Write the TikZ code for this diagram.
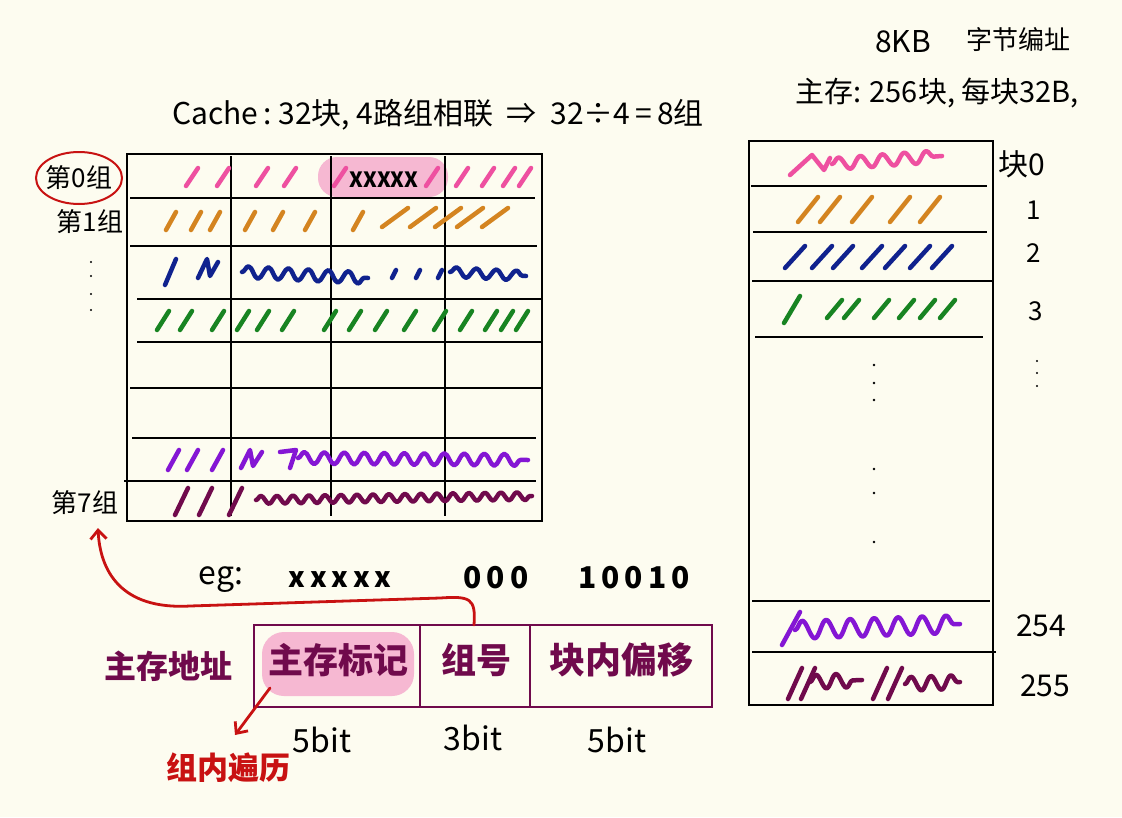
\documentclass[tikz,border=0pt]{standalone}
\usepackage{fontspec}
\setmainfont{Noto Sans CJK SC}
\usetikzlibrary{decorations.pathmorphing,arrows.meta}
\definecolor{bgc}{RGB}{253,252,240}
\definecolor{pinkc}{RGB}{238,80,160}
\definecolor{hlc}{RGB}{246,184,210}
\definecolor{orangec}{RGB}{212,132,32}
\definecolor{bluec}{RGB}{16,34,142}
\definecolor{greenc}{RGB}{24,132,34}
\definecolor{purplec}{RGB}{132,22,212}
\definecolor{maroonc}{RGB}{112,10,76}
\definecolor{redc}{RGB}{200,18,18}
\tikzset{
  grid/.style={line width=1.8pt, black},
  scrib/.style={line width=4.5pt, line cap=round, line join=round},
  wav/.style={scrib, decorate, decoration={snake, amplitude=6, segment length=20}},
  lbl/.style={inner sep=0pt, font=\fontsize{26}{30}\selectfont},
  big/.style={inner sep=0pt, font=\fontsize{35}{40}\selectfont\bfseries},
  redarrow/.style={redc, line width=2.8pt, line cap=round, -{Straight Barb[length=9pt,width=16pt,line width=2.8pt]}},
}
\begin{document}
\begin{tikzpicture}[x=1pt,y=-1pt]
\useasboundingbox (0,0) rectangle (1122,817);
\fill[bgc] (0,0) rectangle (1122,817);

% ---------- titles ----------
\node[lbl, font=\fontsize{30}{34}\selectfont] (kb) at (903,42) {8KB};
\node[lbl, font=\fontsize{26}{30}\selectfont] (byteaddr) at (1018,40) {字节编址};
\node[lbl, font=\fontsize{29}{34}\selectfont] (mm) at (937,93) {主存: 256块, 每块32B,};
\node[lbl, font=\fontsize{30}{34}\selectfont] (cachet) at (438,115) {Cache\,:\ 32块,\ 4路组相联\ \ ⇒\ \ 32÷4\,=\,8组};

% ---------- cache table ----------
\fill[hlc, rounded corners=19pt] (318,157) rectangle (448,197);
\draw[grid] (127,154) rectangle (542,521);
\foreach \cx in {231,331,445} \draw[grid] (\cx,156) -- (\cx,516);
\draw[grid] (130,198) -- (535,198);
\draw[grid] (130,246) -- (537,246);
\draw[grid] (137,299) -- (543,299);
\draw[grid] (137,342) -- (543,342);
\draw[grid] (130,388) -- (543,388);
\draw[grid] (132,438) -- (536,438);
\draw[grid] (124,481) -- (536,481);
\node[inner sep=0pt, font=\fontsize{21}{24}\selectfont\bfseries] (xx) at (384,180) {XXXXX};

% row 0 pink
\foreach \sx in {192,223,262,290,340,432,462,488,509,525}
  \draw[scrib,pinkc] (\sx-6,186) -- (\sx+6,168);
% row 1 orange
\foreach \sx in {171,196,215,250,278,310,358}
  \draw[scrib,orangec] (\sx-5,230) -- (\sx+5,212);
\foreach \sx in {395,423,448,470,495}
  \draw[scrib,orangec] (\sx-13,227) -- (\sx+13,208);
% row 2 blue
\draw[scrib,bluec] (165,285) -- (176,259);
\draw[scrib,bluec] (198,278) -- (207,259) -- (210,276) -- (218,262);
\draw[wav,bluec] (242,272) -- (368,278);
\foreach \sx in {394,418,440}
  \draw[scrib,bluec] (\sx-2,278) -- (\sx+2,270);
\draw[wav,bluec, decoration={amplitude=5}] (450,272) -- (526,276);
% row 3 green
\foreach \sx in {163,186,218,243,263,288,330,355,381,410,440,466,491,507,522}
  \draw[scrib,greenc] (\sx-6,330) -- (\sx+6,311);
% row 6 purple
\foreach \sx in {174,193,218}
  \draw[scrib,purplec] (\sx-6,470) -- (\sx+5,450);
\draw[scrib,purplec] (241,468) -- (250,450) -- (253,466) -- (262,452);
\draw[scrib,purplec] (280,452) -- (296,450) -- (290,468);
\draw[wav,purplec] (298,458) -- (528,460);
% row 7 maroon
\foreach \sx in {183,207,237}
  \draw[scrib,maroonc] (\sx-8,515) -- (\sx+5,488);
\draw[wav,maroonc, decoration={amplitude=4, segment length=16}] (256,500) -- (532,496);

% ---------- group labels ----------
\node[lbl] (g0) at (79,178) {第0组};
\draw[redc, line width=2pt] (g0) ellipse [x radius=43pt, y radius=26pt];
\node[lbl] (g1) at (90,222) {第1组};
\foreach \dy in {262,276,294,310} \fill (91,\dy) circle (1.2pt);
\node[lbl] (g7) at (85,503) {第7组};

% ---------- main memory table ----------
\draw[grid] (749,141) rectangle (993,705);
\draw[grid] (751,186) -- (987,186);
\draw[grid] (753,232) -- (987,232);
\draw[grid] (752,281) -- (993,281);
\draw[grid] (755,337) -- (983,337);
\draw[grid] (752,601) -- (990,601);
\draw[grid] (752,652) -- (996,652);
\foreach \dy in {365,383,400,469,493,542} \fill (874,\dy) circle (1.3pt);

% memory rows
\draw[scrib,pinkc] (790,175) -- (812,155) -- (824,170) -- (830,158);
\draw[wav,pinkc, decoration={amplitude=6, segment length=22}] (832,164) -- (942,156);
\foreach \sx in {808,830,862,900,930}
  \draw[scrib,orangec] (\sx-10,222) -- (\sx+10,197);
\foreach \sx in {795,822,843,872,895,920,942}
  \draw[scrib,bluec] (\sx-10,268) -- (\sx+10,246);
\draw[scrib,greenc] (784,323) -- (800,296);
\foreach \sx in {835,852,882,907,928,948}
  \draw[scrib,greenc] (\sx-8,318) -- (\sx+7,300);
\draw[scrib,purplec] (782,645) -- (800,612);
\draw[wav,purplec, decoration={amplitude=9, segment length=24}] (795,630) -- (960,624);
\foreach \sx in {795,808,880,895}
  \draw[scrib,maroonc] (\sx-7,699) -- (\sx+7,668);
\draw[wav,maroonc, decoration={amplitude=7, segment length=20}] (810,682) -- (862,680);
\draw[wav,maroonc, decoration={amplitude=7, segment length=20}] (905,684) -- (960,682);

% memory labels
\node[lbl, font=\fontsize{30}{34}\selectfont] (b0) at (1022,164) {块0};
\node[lbl] (b1) at (1034,210) {1};
\node[lbl] (b2) at (1034,253) {2};
\node[lbl] (b3) at (1036,311) {3};
\foreach \dy in {361,373,386} \fill (1037,\dy) circle (1.1pt);
\node[lbl, font=\fontsize{30}{34}\selectfont] (b254) at (1041,626) {254};
\node[lbl, font=\fontsize{30}{34}\selectfont] (b255) at (1045,686) {255};

% ---------- example ----------
\node[lbl, font=\fontsize{32}{36}\selectfont] (eg) at (221,580) {eg:};
\node[lbl, font=\fontsize{28}{32}\selectfont\bfseries] (ex) at (340,580) {x\,x\,x\,x\,x};
\node[lbl, font=\fontsize{30}{34}\selectfont\bfseries] (ez) at (496,578) {0\,0\,0};
\node[lbl, font=\fontsize{30}{34}\selectfont\bfseries] (eo) at (634,578) {1\,0\,0\,1\,0};

% ---------- address box ----------
\fill[hlc, rounded corners=22pt] (262,632) rectangle (414,696);
\draw[maroonc, line width=2.6pt] (254,625) rectangle (712,707);
\draw[maroonc, line width=2.6pt] (420,625) -- (420,707);
\draw[maroonc, line width=2.6pt] (530,625) -- (530,707);
\node[big, maroonc, font=\fontsize{32}{36}\selectfont\bfseries] (addr) at (168,666) {主存地址};
\node[big, maroonc] (tag) at (338,660) {主存标记};
\node[big, maroonc] (setno) at (476,660) {组号};
\node[big, maroonc, font=\fontsize{36}{40}\selectfont\bfseries] (off) at (621,660) {块内偏移};
\node[lbl, font=\fontsize{32}{36}\selectfont] (t5) at (322,740) {5bit};
\node[lbl, font=\fontsize{32}{36}\selectfont] (t3) at (473,738) {3bit};
\node[lbl, font=\fontsize{32}{36}\selectfont] (t5b) at (617,740) {5bit};
\node[big, redc, font=\fontsize{31}{34}\selectfont\bfseries] (trav) at (228,768) {组内遍历};

% ---------- arrows ----------
\coordinate (tagfoot) at (270,688);
\coordinate (travtop) at (235,735);
\draw[redarrow] (tagfoot) -- (travtop);
\coordinate (setnotop) at (474,625);
\draw[redarrow] (setnotop) .. controls (476,598) and (470,596) .. (440,598)
  -- (190,606) .. controls (120,610) and (100,570) .. (98,528);
\end{tikzpicture}
\end{document}
